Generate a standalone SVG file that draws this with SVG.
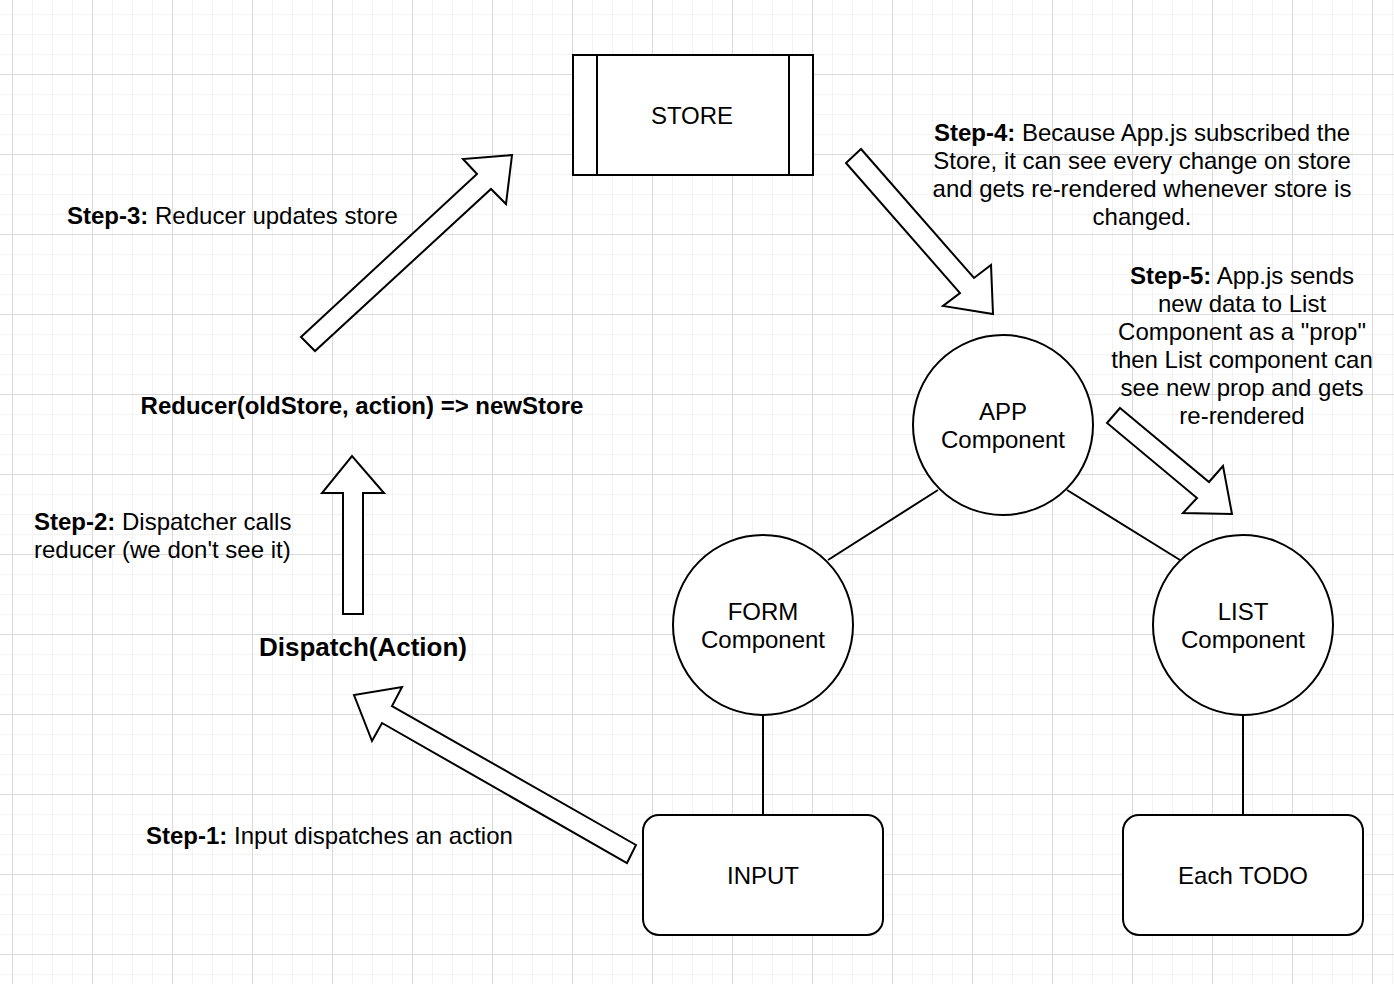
<svg xmlns="http://www.w3.org/2000/svg" width="1394" height="984" viewBox="0 0 1394 984">
<style>
.t{font-family:"Liberation Sans",Arial,Helvetica,sans-serif;font-size:24px;fill:#000}
.c{text-anchor:middle}
.b{font-weight:bold}
.shape{fill:#fff;stroke:#000;stroke-width:2}
.arrow{fill:#fff;stroke:#000;stroke-width:2;stroke-linejoin:miter}
.edge{fill:none;stroke:#000;stroke-width:2}
</style>
<defs>
<pattern id="minor" x="12" y="14" width="20" height="20" patternUnits="userSpaceOnUse">
<path d="M0 0V20M0 0H20" fill="none" stroke="#f3f3f3" stroke-width="2"/>
</pattern>
<pattern id="major" x="12" y="74" width="80" height="80" patternUnits="userSpaceOnUse">
<path d="M0.5 0V80M0 0.5H80" fill="none" stroke="#dadada" stroke-width="1"/>
</pattern>
</defs>
<rect width="1394" height="984" fill="#fff"/>
<rect width="1394" height="984" fill="url(#minor)"/>
<rect width="1394" height="984" fill="url(#major)"/>

<g id="connectors">
<line class="edge" x1="938" y1="490" x2="828" y2="560"/>
<line class="edge" x1="1067" y1="490" x2="1180" y2="560"/>
<line class="edge" x1="763" y1="715" x2="763" y2="815"/>
<line class="edge" x1="1243" y1="715" x2="1243" y2="815"/>
<polygon class="arrow" points="636,845 392,706 402,687 354,695 372,741 382,723 627,863"/>
<polygon class="arrow" points="343,614 343,493 322,493 352,456 384,493 363,493 363,614"/>
<polygon class="arrow" points="301,337 477,174 463,159 512,155 506,204 491,189 315,351"/>
<polygon class="arrow" points="861,149 974,278 991,265 993,314 943,306 960,293 846,163"/>
<polygon class="arrow" points="1120,408 1209,482 1223,466 1232,514 1183,513 1197,498 1107,423"/>
</g>

<g id="store">
<rect class="shape" x="573" y="55" width="240" height="120"/>
<line class="edge" x1="597" y1="55" x2="597" y2="175"/>
<line class="edge" x1="789" y1="55" x2="789" y2="175"/>
<text class="t c" x="692" y="124">STORE</text>
</g>

<g id="app">
<circle class="shape" cx="1003" cy="425" r="90"/>
<text class="t c" x="1003" y="420">APP</text>
<text class="t c" x="1003" y="448">Component</text>
</g>

<g id="form">
<circle class="shape" cx="763" cy="625" r="90"/>
<text class="t c" x="763" y="620">FORM</text>
<text class="t c" x="763" y="648">Component</text>
</g>

<g id="list">
<circle class="shape" cx="1243" cy="625" r="90"/>
<text class="t c" x="1243" y="620">LIST</text>
<text class="t c" x="1243" y="648">Component</text>
</g>

<g id="input">
<rect class="shape" x="643" y="815" width="240" height="120" rx="16" ry="16"/>
<text class="t c" x="763" y="884">INPUT</text>
</g>

<g id="todo">
<rect class="shape" x="1123" y="815" width="240" height="120" rx="16" ry="16"/>
<text class="t c" x="1243" y="884">Each TODO</text>
</g>

<g id="labels">
<text class="t" x="67" y="224"><tspan class="b">Step-3:</tspan> Reducer updates store</text>
<text class="t c b" x="362" y="414">Reducer(oldStore, action) =&gt; newStore</text>
<text class="t" x="34" y="530"><tspan class="b">Step-2:</tspan> Dispatcher calls</text>
<text class="t" x="34" y="558">reducer (we don't see it)</text>
<text class="t c b" x="363" y="656" style="font-size:26px">Dispatch(Action)</text>
<text class="t" x="146" y="844"><tspan class="b">Step-1:</tspan> Input dispatches an action</text>
<text class="t c" x="1142" y="141"><tspan class="b">Step-4:</tspan> Because App.js subscribed the</text>
<text class="t c" x="1142" y="169">Store, it can see every change on store</text>
<text class="t c" x="1142" y="197">and gets re-rendered whenever store is</text>
<text class="t c" x="1142" y="225">changed.</text>
<text class="t c" x="1242" y="284"><tspan class="b">Step-5:</tspan> App.js sends</text>
<text class="t c" x="1242" y="312">new data to List</text>
<text class="t c" x="1242" y="340">Component as a "prop"</text>
<text class="t c" x="1242" y="368">then List component can</text>
<text class="t c" x="1242" y="396">see new prop and gets</text>
<text class="t c" x="1242" y="424">re-rendered</text>
</g>
</svg>
